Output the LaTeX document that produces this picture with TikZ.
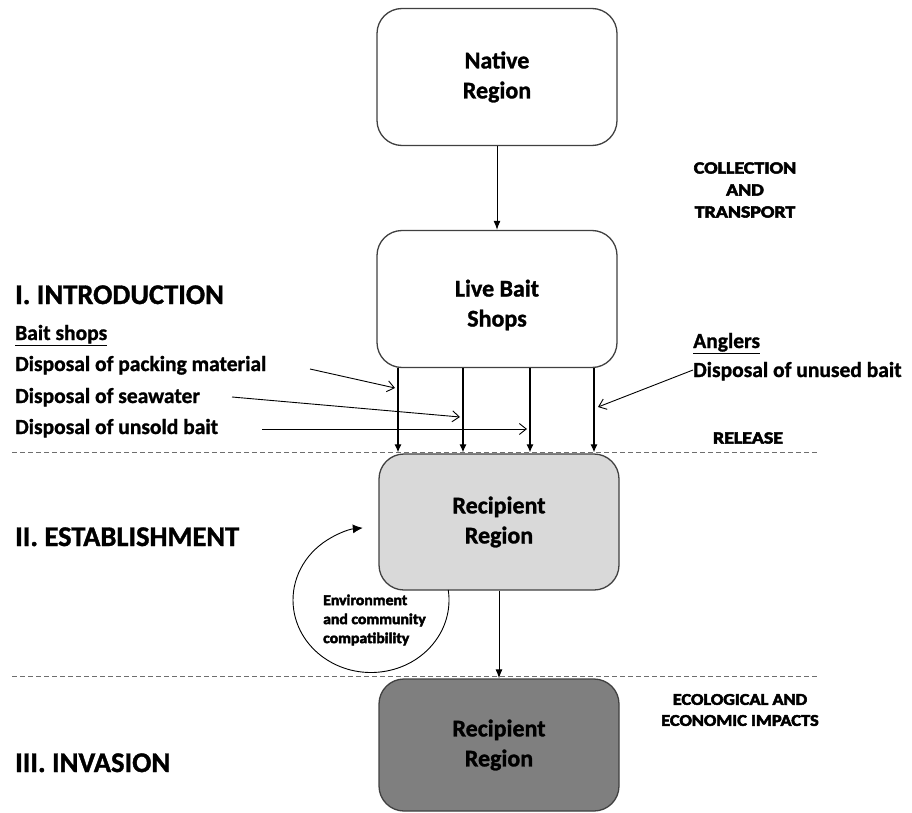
\documentclass[tikz,border=0pt]{standalone}
\usepackage{fontspec}
\setmainfont{Carlito}[BoldFeatures={FakeBold=1.2}]
\newfontfamily\heavyfont{Carlito}[BoldFeatures={FakeBold=3}]
\usetikzlibrary{arrows.meta,calc}
\definecolor{lightbox}{HTML}{D9D9D9}
\definecolor{darkbox}{HTML}{7F7F7F}
\definecolor{edgegray}{HTML}{404040}
\definecolor{dashgray}{HTML}{6E6E6E}
\newcommand\widecaps[1]{\scalebox{1.17}[1]{#1}}
\newcommand\ecocaps[1]{\scalebox{1.11}[1]{#1}}
\begin{document}
\begin{tikzpicture}[x=1pt,y=-1pt,
  box/.style={draw=edgegray, line width=1.3pt, rounded corners=25pt,
    minimum width=240pt, minimum height=137pt, inner sep=0pt, align=center,
    font=\fontsize{24}{30}\selectfont\bfseries},
  boxtext/.style={align=center, inner sep=0pt, font=\fontsize{24}{30}\selectfont\bfseries},
  title/.style={anchor=base west, inner sep=0pt, font=\fontsize{28.5}{32}\selectfont\bfseries},
  item/.style={anchor=base west, inner sep=0pt, font=\fontsize{21.5}{24}\selectfont\bfseries},
  caps/.style={align=center, inner sep=0pt, font=\fontsize{17}{22}\heavyfont\bfseries},
  feed/.style={-{Latex[length=9pt,width=7pt]}, line width=1pt},
  vfeed/.style={-{Latex[length=8pt,width=7pt]}, line width=1.1pt},
  inarrow/.style={-{Straight Barb[length=7pt,width=11pt]}, line width=0.9pt},
  sep/.style={dashgray, line width=1pt, dash pattern=on 5pt off 3pt},
  cyc/.style={-{Latex[length=10pt,width=9pt]}, line width=0.9pt}
]
\useasboundingbox (0,0) rectangle (912,813);

% dashed separators
\coordinate (s1a) at (12,452); \coordinate (s1b) at (818,452);
\coordinate (s2a) at (12,676); \coordinate (s2b) at (818,676);
\draw[sep] (s1a) -- (s1b);
\draw[sep] (s2a) -- (s2b);

% boxes
\node[box, fill=white] (native) at (497,77) {Native\\Region};
\node[box, fill=white] (live) at (497,299) {};
\node[boxtext] (livetxt) at ($(live.center)+(0,6)$) {Live Bait\\Shops};
\node[box, fill=lightbox, minimum height=136pt] (recip) at (499,522) {Recipient\\Region};
\node[box, fill=darkbox, minimum height=132pt] (invas) at (499,745) {Recipient\\Region};

% main arrows
\draw[feed] (native.south) -- (live.north);
\draw[feed] (recip.south) -- (invas.north);

% release verticals
\foreach \n/\x in {v1/398, v2/463, v3/530, v4/594}{
  \coordinate (\n) at (\x,0);
  \draw[vfeed] (live.south -| \n) -- ([yshift=1pt]recip.north -| \n);
}

% stage titles
\node[title] (t1) at (15,304) {I. INTRODUCTION};
\node[title] (t2) at (15,546) {II. ESTABLISHMENT};
\node[title] (t3) at (15,772) {III. INVASION};

% bait shop items
\node[item] (bs) at (15,340) {\underline{Bait shops}};
\node[item] (pk) at (15,371) {Disposal of packing material};
\node[item] (sw) at (15,403) {Disposal of seawater};
\node[item] (us) at (15,434) {Disposal of unsold bait};

% anglers
\node[item] (ang) at (693,348) {\underline{Anglers}};
\node[item] (ub) at (693,377) {Disposal of unused bait};

% input arrows
\coordinate (pkS) at (310,369); \coordinate (pkE) at (395,388);
\coordinate (swS) at (232,397); \coordinate (swE) at (460,417);
\coordinate (usS) at (262,429); \coordinate (usE) at (527,429);
\coordinate (ubS) at (693,370); \coordinate (ubE) at (598,407);
\draw[inarrow] (pkS) -- (pkE);
\draw[inarrow] (swS) -- (swE);
\draw[inarrow] (usS) -- (usE);
\draw[inarrow] (ubS) -- (ubE);

% phase labels
\node[caps] (ct) at (745,190) {\widecaps{COLLECTION}\\\widecaps{AND}\\\widecaps{TRANSPORT}};
\node[caps] (rel) at (748,438) {\widecaps{RELEASE}};
\node[caps, font=\fontsize{16.5}{21}\heavyfont\bfseries] (eco) at (740,710) {\ecocaps{ECOLOGICAL AND}\\\ecocaps{ECONOMIC IMPACTS}};

% compatibility loop
\draw[cyc] ($(371,600)+(-8:78 and 72.5)$) arc[start angle=-8, end angle=264, x radius=78, y radius=72.5];
\node[anchor=west, align=left, inner sep=0pt, font=\fontsize{15}{19}\heavyfont\bfseries] (env) at (323,620)
  {\scalebox{1.05}[1]{Environment}\\\scalebox{1.05}[1]{and community}\\\scalebox{1.05}[1]{compatibility}};
\end{tikzpicture}
\end{document}
